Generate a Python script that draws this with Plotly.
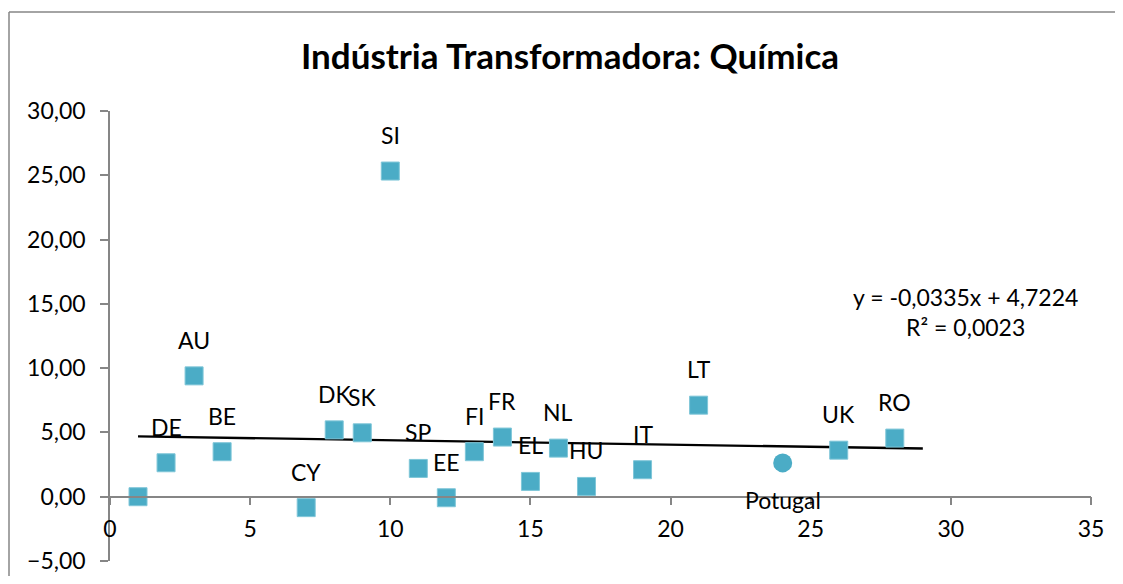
import plotly.graph_objects as go

# ---- data ----
labels = ["", "DE", "AU", "BE", "CY", "DK", "SK", "SI", "SP", "EE", "FI",
          "FR", "EL", "NL", "HU", "IT", "LT", "UK", "RO"]
x_vals = [1, 2, 3, 4, 7, 8, 9, 10, 11, 12, 13, 14, 15, 16, 17, 19, 21, 26, 28]
y_vals = [0.0, 2.64, 9.40, 3.50, -0.85, 5.20, 4.97, 25.33, 2.20, -0.08, 3.50,
          4.64, 1.19, 3.78, 0.80, 2.10, 7.12, 3.62, 4.56]

pt_label = "Potugal"
pt_x = [24]
pt_y = [2.63]

trend_slope = -0.0335
trend_intercept = 4.7224
trend_forward = 1
eq_text = "y = -0,0335x + 4,7224<br>R² = 0,0023"

x_ticks = [0, 5, 10, 15, 20, 25, 30, 35]
y_ticks = [-5, 0, 5, 10, 15, 20, 25, 30]

title_text = "<b>Indústria Transformadora: Química</b>"

# ---- style ----
FONT = "Lato"
COLOR = "#4BACC6"
AXIS = "#868686"
OFF = 8  # page body margin
W, H = 1123 - 2 * OFF, 584 - 2 * OFF
L, T = 110 - OFF, 111 - OFF
PW, PH = 981, 450

all_x = x_vals + pt_x
tx = [min(all_x), max(all_x) + trend_forward]
ty = [trend_slope * v + trend_intercept for v in tx]

fig = go.Figure()
fig.add_trace(go.Scatter(x=tx, y=ty, mode="lines",
                         line=dict(color="black", width=2.3),
                         hoverinfo="skip", showlegend=False))
fig.add_trace(go.Scatter(x=x_vals, y=y_vals, mode="markers",
                         marker=dict(symbol="square", size=18, color=COLOR,
                                     line=dict(color="#7FC6D8", width=1)),
                         showlegend=False))
fig.add_trace(go.Scatter(x=pt_x, y=pt_y, mode="markers",
                         marker=dict(symbol="circle", size=19, color=COLOR,
                                     line=dict(width=0)),
                         showlegend=False))

LBL = dict(family=FONT, size=23, color="black")
annotations = []
for lab, xv, yv in zip(labels, x_vals, y_vals):
    if lab:
        annotations.append(dict(x=xv, y=yv, text=lab, showarrow=False,
                                xanchor="center", yanchor="middle",
                                yshift=36, font=LBL))
for xv, yv in zip(pt_x, pt_y):
    annotations.append(dict(x=xv, y=yv, text=pt_label, showarrow=False,
                            xanchor="center", yanchor="middle",
                            yshift=-37, font=LBL))
annotations.append(dict(xref="paper", yref="paper", x=(965 - 110) / PW, y=(561 - 312) / PH,
                        text=eq_text, showarrow=False, align="center",
                        xanchor="center", yanchor="middle", font=LBL))

# frame: top and left edges only (right and bottom fall outside the picture)
fx0 = (OFF + 1 - 110) / PW
fx1 = (W + OFF - 110) / PW
fy_top = (561 - 12) / PH
fy_bot = (561 - (H + OFF)) / PH

fig.update_layout(
    width=W, height=H,
    margin=dict(l=L, r=max(W - L - PW, 0), t=T, b=max(H - T - PH, 0), autoexpand=False),
    paper_bgcolor="white", plot_bgcolor="white",
    separators=", ",
    font=dict(family=FONT, size=23, color="black"),
    title=dict(text=title_text, xref="container", yref="container",
               x=(570 - OFF) / W, y=1 - (57 - OFF) / H, xanchor="center", yanchor="middle",
               font=dict(family=FONT, size=35, color="black")),
    annotations=annotations,
    shapes=[
        dict(type="line", xref="paper", yref="paper", x0=fx0, x1=fx1, y0=fy_top, y1=fy_top,
             line=dict(color=AXIS, width=1.5), layer="below"),
        dict(type="line", xref="paper", yref="paper", x0=fx0, x1=fx0, y0=fy_top, y1=fy_bot,
             line=dict(color=AXIS, width=1.5), layer="below"),
    ],
)
fig.update_xaxes(range=[0, 35], tickvals=x_ticks, showgrid=False, zeroline=False,
                 showline=True, linecolor=AXIS, linewidth=1.5, automargin=False,
                 ticks="outside", ticklen=8, tickcolor=AXIS, tickwidth=1.5,
                 anchor="free", position=5 / 35, ticklabelstandoff=4,
                 tickfont=LBL)
fig.update_yaxes(range=[-5, 30], tickvals=y_ticks, tickformat=".2f", showgrid=False,
                 zeroline=False, showline=True, linecolor=AXIS, linewidth=1.5,
                 automargin=False,
                 ticks="outside", ticklen=8, tickcolor=AXIS, tickwidth=1.5,
                 ticklabelstandoff=10,
                 tickfont=LBL)

fig.write_html("out.html", config={"displayModeBar": False})
